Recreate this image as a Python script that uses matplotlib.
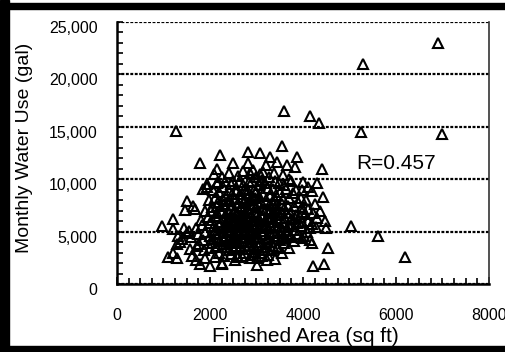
import matplotlib.pyplot as plt
import matplotlib.transforms as mtransforms
from matplotlib.patches import Rectangle
from matplotlib.ticker import MultipleLocator, FuncFormatter

# finished area (sq ft) and monthly water use (gal)
area = [965, 1100, 1200, 1290, 1200, 1200, 1310, 1270, 1350, 1300,
        1400, 1500, 1500, 1460, 1610, 1550, 1450, 1600, 1580,
        1640, 1680, 1720, 1790, 1785, 1700, 1750, 1800, 1850, 1890, 1850, 1820,
        1700, 1880, 1900, 1900, 1760,
        1930, 1935, 2000, 2150, 2215, 1950, 2000, 2000, 2050, 2050, 2100, 2100,
        2150, 2150, 2200, 2200, 2000, 2100, 2050, 2180, 2120, 2200, 1980, 2080, 2150,
        2250, 2260, 2500, 2500, 2250, 2300, 2300, 2300, 2300, 2350, 2350, 2350,
        2400, 2400, 2400, 2450, 2450, 2450, 2250, 2400, 2300, 2480, 2420, 2350,
        2280, 2450, 2500,
        2580, 2600, 2800, 2820, 2820, 2550, 2550, 2550, 2600, 2600, 2650, 2650,
        2650, 2700, 2700, 2700, 2700, 2750, 2750, 2750, 2750, 2600, 2700, 2580,
        2780, 2620, 2680, 2550,
        2860, 2860, 2970, 3010, 3070, 2850, 2850, 2850, 2900, 2900, 2900, 2950,
        2950, 2950, 3000, 3000, 3000, 3000, 3050, 3050, 3050, 3100, 3100, 3100,
        2880, 2920, 3080, 2980,
        3140, 3250, 3290, 3200, 3150, 3150, 3150, 3200, 3200, 3200, 3250, 3250,
        3250, 3300, 3300, 3300, 3350, 3350, 3350, 3400, 3400, 3400, 3120, 3380,
        3440, 3440, 3550, 3590, 3660, 3450, 3450, 3500, 3500, 3500, 3550, 3550,
        3600, 3600, 3600, 3650, 3650, 3700, 3700, 3700, 3480,
        3830, 3870, 3980, 3980, 4000, 3960, 3980, 3980, 3750, 3750, 3800, 3800,
        3850, 3850, 3900, 3900, 3950,
        4190, 4190, 4190, 4150, 4340, 4410, 4210, 4450, 4540, 4100, 4100, 4250,
        4300, 5030, 5610, 6190, 5245, 6990, 5290, 6903, 4080,
        # the dense core
        2050, 2080, 2120, 2160, 2190, 2230, 2260, 2270, 2310, 2330, 2360, 2380,
        2390, 2410, 2430, 2440, 2460, 2470, 2490, 2510, 2520, 2530, 2540, 2560,
        2570, 2590, 2610, 2630, 2640, 2660, 2670, 2690, 2710, 2720, 2730, 2760,
        2770, 2790, 2810, 2830, 2840, 2870, 2890, 2910, 2930, 2940, 2960, 2990,
        3010, 3020, 3040, 3060, 3080, 3090, 3110, 3130, 3160, 3170, 3180, 3210,
        3230, 3240, 3260, 3280, 3310, 3320, 3330, 3360, 3370, 3390, 3420, 3430,
        3460, 3470, 3520, 3530, 3570, 3580, 3620, 3640, 3680, 3720, 3760, 3780,
        3820,
        2020, 2070, 2130, 2170, 2220, 2240, 2330, 2370, 2410, 2460, 2520, 2530,
        2560, 2620, 2680, 2700, 2740, 2800, 2800, 2830, 2870, 2890, 2940, 2960,
        3020, 3040, 3070, 3120, 3150, 3190, 3220, 3270, 3330, 3360, 3390, 3430,
        3470, 3540, 3560, 3590, 3640, 3690, 3710, 3740, 3800, 3880, 3930, 3970,
        4020, 4040, 4060, 4110, 4140, 4160, 4220, 4280, 4310, 4360, 4420, 4480,
        4500]
water = [5530, 2580, 2960, 2480, 6200, 5250, 4580, 14600, 4000, 3800,
         4290, 4870, 7920, 7060, 2670, 5100, 5300, 4500, 3300,
         7440, 7150, 3620, 1910, 11500, 5300, 4800, 6100, 9060, 2480, 4200, 5600,
         2300, 3200, 5000, 7000, 3800,
         9540, 9250, 1720, 9630, 12300, 6400, 5800, 4600, 3900, 7300, 8200, 5200,
         4400, 6800, 3000, 5600, 3400, 2600, 6100, 7800, 4800, 8800, 8000, 10500, 11000,
         1910, 2000, 9830, 11500, 3500, 4200, 5000, 6300, 7600, 8400, 4600, 5700,
         3200, 6800, 9000, 5200, 7200, 4000, 10200, 10600, 2700, 6000, 8000, 3800,
         9300, 2900, 4500,
         2670, 2580, 9060, 12600, 11540, 3600, 5400, 6600, 7700, 4800, 6200, 8600,
         3400, 5000, 7000, 9400, 4100, 5800, 6800, 8000, 3000, 10300, 10800, 9000,
         4500, 5600, 7400, 4200,
         2480, 10600, 3430, 1810, 12500, 5200, 6400, 7600, 4300, 8400, 9800, 5700,
         6900, 3700, 5000, 7300, 8800, 10200, 6200, 4400, 9400, 5400, 7800, 3000,
         3300, 10900, 10500, 6000,
         3240, 2770, 12100, 11400, 4800, 6600, 8600, 5600, 7200, 3800, 4400, 9200,
         6200, 5000, 7600, 8400, 3600, 5900, 6900, 4600, 8000, 9800, 9900, 10600,
         3430, 11640, 13200, 16500, 11350, 5400, 7200, 6300, 4200, 8800, 5000, 7600,
         5900, 3900, 9400, 6800, 4800, 5500, 8200, 10000, 9600,
         11200, 12100, 4390, 6870, 9730, 8200, 8970, 5900, 6200, 4500, 7400, 5200,
         9000, 6600, 4800, 7800, 5500,
         3910, 5720, 8870, 16000, 15400, 11000, 1720, 1910, 3430, 6000, 7200, 7600,
         9600, 5530, 4580, 2580, 14500, 14300, 21000, 23000, 5000,
         # the dense core
         4300, 5500, 6500, 7400, 4900, 5900, 6900, 8100, 4500, 5400, 6100, 7000,
         7900, 4300, 5500, 6400, 7500, 8600, 3400, 5000, 6000, 7000, 8100, 4600,
         5800, 6900, 3900, 5100, 6300, 7300, 8200, 4400, 5400, 6500, 7800, 3600,
         5100, 6200, 7200, 4000, 5600, 6800, 8000, 4900, 6000, 7500, 3100, 4500,
         5600, 6600, 7700, 8400, 4000, 5100, 6400, 7100, 5300, 3500, 6000, 8000,
         4300, 5300, 6800, 7100, 4000, 5500, 6400, 7700, 4900, 5500, 6600, 7500,
         4600, 6000, 5400, 6900, 4400, 8100, 6300, 5200, 7400, 4600, 5700, 8700,
         6300,
         7000, 9000, 3600, 9700, 4100, 7000, 9800, 3500, 5900, 9500, 4000, 2300,
         8900, 9700, 2700, 6000, 9000, 3300, 8700, 9700, 4700, 2800, 9000, 8200,
         2500, 3600, 9800, 2700, 10700, 9600, 2300, 10200, 3200, 9100, 2400, 8500,
         3500, 3000, 10400, 7200, 9100, 3400, 6800, 9800, 4100, 5800, 6400, 7300,
         4600, 6700, 8000, 9300, 5300, 4200, 6800, 5400, 6300, 7000, 8300, 6000,
         5300]

x_ticks = [0, 2000, 4000, 6000, 8000]
y_ticks = [0, 5000, 10000, 15000, 20000, 25000]
r_text = 'R=0.457'

plt.rcParams['font.family'] = ['Liberation Sans', 'DejaVu Sans']

fig = plt.figure(figsize=(5.06, 3.52), dpi=100)
ax = fig.add_axes([117 / 506, 68 / 352, 372 / 506, 262 / 352])

ax.plot(area, water, linestyle='none', marker='^', markersize=6.5,
        markerfacecolor='none', markeredgecolor='black', markeredgewidth=1.5,
        clip_on=False, zorder=3)

ax.set_xlim(0, 8000)
ax.set_ylim(0, 25000)
ax.set_xticks(x_ticks)
ax.set_yticks(y_ticks)
ax.xaxis.set_minor_locator(MultipleLocator(250))
ax.yaxis.set_minor_locator(MultipleLocator(1000))
ax.yaxis.set_major_formatter(FuncFormatter(lambda v, p: '{:,.0f}'.format(v)))

ax.grid(axis='y', color='black', linewidth=1.6, linestyle=(0, (1.3, 0.7)))
ax.set_axisbelow(True)

ax.spines['top'].set_visible(False)
ax.spines['left'].set_linewidth(1.8)
ax.spines['bottom'].set_linewidth(1.8)
ax.spines['right'].set_linewidth(1.2)
ax.spines['right'].set_color('#333333')
for s in ax.spines.values():
    s.set_zorder(4)

ax.tick_params(axis='both', which='both', direction='in', width=1.2,
               colors='black', labelsize=11.5)
ax.tick_params(axis='y', which='both', length=4.5, pad=14)
ax.tick_params(axis='x', which='major', length=5, pad=17)
ax.tick_params(axis='x', which='minor', length=4)
ax.tick_params(axis='y', which='major', right=False)

shift = mtransforms.ScaledTranslation(0, -5 / 100, fig.dpi_scale_trans)
for lab in ax.get_yticklabels():
    lab.set_transform(lab.get_transform() + shift)

ax.text(5140, 11540, r_text, fontsize=15, ha='left', va='center')

fig.text(305 / 506, 1 - 336 / 352, 'Finished Area (sq ft)', fontsize=15,
         ha='center', va='center')
fig.text(25 / 506, 1 - 148 / 352, 'Monthly Water Use (gal)', fontsize=14,
         ha='center', va='center', rotation=90)

# black frame round the picture
for (x0, y0, w, h) in [(0, 343, 506, 6), (0, 0, 9, 352), (0, 0, 506, 6)]:
    fig.patches.append(Rectangle((x0 / 506, y0 / 352), w / 506, h / 352,
                                 transform=fig.transFigure, color='black',
                                 zorder=10))

fig.savefig('out.png', dpi=100)
